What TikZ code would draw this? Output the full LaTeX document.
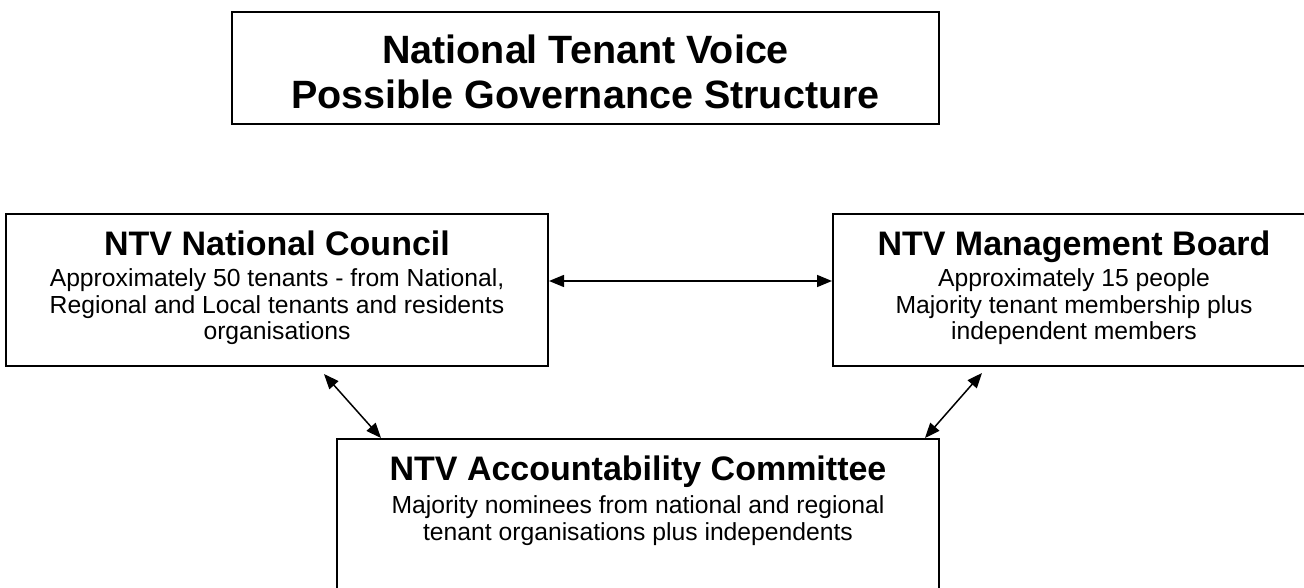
\documentclass[tikz,border=0pt]{standalone}
\usepackage{fontspec}
\setmainfont{Liberation Sans}
\usetikzlibrary{arrows.meta}
\begin{document}
\begin{tikzpicture}[x=1pt,y=-1pt,
  frame/.style={draw=black, line width=2pt, inner sep=0pt},
  titletext/.style={anchor=base, inner sep=0pt, font=\fontsize{39.5}{45}\selectfont\bfseries},
  headtext/.style={anchor=base, inner sep=0pt, font=\fontsize{34}{38}\selectfont\bfseries},
  bodytext/.style={anchor=base, inner sep=0pt, font=\fontsize{24.7}{27}\selectfont},
  link/.style={line width=1.5pt, {Triangle[length=15pt,width=12pt]}-{Triangle[length=15pt,width=12pt]}},
]
\clip (0,0) rectangle (1304,588);
\fill[white] (0,0) rectangle (1304,588);

% boxes
\node[frame, minimum width=707pt, minimum height=112pt] (titlebox) at (585.5,68) {};
\node[frame, minimum width=542pt, minimum height=152pt] (council) at (277,290) {};
\node[frame, minimum width=482pt, minimum height=152pt] (board) at (1074,290) {};
\node[frame, minimum width=602pt, minimum height=190pt] (committee) at (638,534) {};

% title
\node[titletext] (t1) at (585.5,64) {National Tenant Voice};
\node[titletext] (t2) at (585.5,109) {Possible Governance Structure};

% national council
\node[headtext] (c0) at (277,255) {NTV National Council};
\node[bodytext] (c1) at (277,287) {Approximately 50 tenants - from National,};
\node[bodytext] (c2) at (277,313) {Regional and Local tenants and residents};
\node[bodytext] (c3) at (277,339) {organisations};

% management board
\node[headtext] (b0) at (1074,255) {NTV Management Board};
\node[bodytext] (b1) at (1074,287) {Approximately 15 people};
\node[bodytext] (b2) at (1074,313) {Majority tenant membership plus};
\node[bodytext] (b3) at (1074,339) {independent members};

% accountability committee
\node[headtext] (a0) at (638,480) {NTV Accountability Committee};
\node[bodytext] (a1) at (638,513) {Majority nominees from national and regional};
\node[bodytext] (a2) at (638,540) {tenant organisations plus independents};

% two-way links
\draw[link] ([yshift=9pt]council.east) -- ([yshift=9pt]board.west);
\draw[link] ([xshift=-225pt,yshift=-7pt]council.south east) -- ([xshift=45pt]committee.north west);
\draw[link] ([xshift=150pt,yshift=-6pt]board.south west) -- ([xshift=-15pt]committee.north east);
\end{tikzpicture}
\end{document}
